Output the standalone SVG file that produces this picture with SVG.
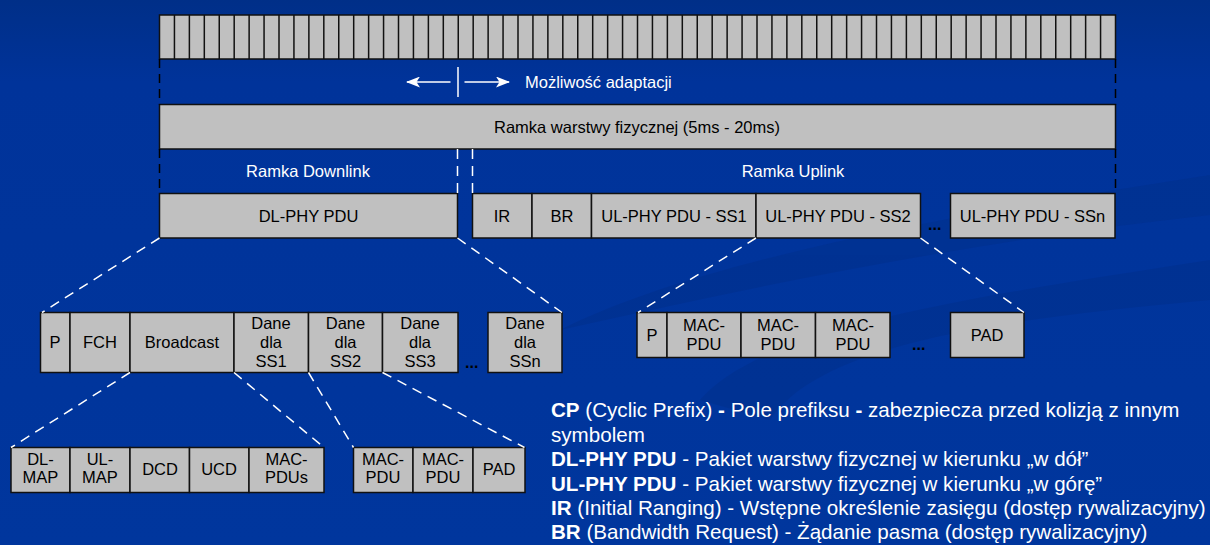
<svg xmlns="http://www.w3.org/2000/svg" width="1210" height="545" viewBox="0 0 1210 545">
<defs>
<linearGradient id="bg" x1="0" y1="0" x2="0" y2="1">
<stop offset="0" stop-color="#002f88"/>
<stop offset="0.15" stop-color="#00339a"/>
<stop offset="1" stop-color="#00369d"/>
</linearGradient>
<marker id="ah" viewBox="0 0 14 11" refX="13" refY="5.5" markerWidth="14" markerHeight="11" markerUnits="userSpaceOnUse" orient="auto">
<path d="M0,0 L14,5.5 L0,11 L3.5,5.5 Z" fill="#fff"/>
</marker>
<style>
.box{fill:#c0c0c0;stroke:#111;stroke-width:1.5}
.lbl{font-family:"Liberation Sans",Arial,sans-serif;font-size:16.5px;fill:#000;text-anchor:middle}
.wl{font-family:"Liberation Sans",Arial,sans-serif;font-size:16.5px;fill:#fff}
.leg{font-family:"Liberation Sans",Arial,sans-serif;font-size:20.6px;fill:#fff}
.b{font-weight:bold}
.bd{fill:none;stroke:#000;stroke-width:1.5;stroke-dasharray:9 6}
.wd{fill:none;stroke:#fff;stroke-width:1.5;stroke-dasharray:10 7}
.dots{font-family:"Liberation Sans",Arial,sans-serif;font-size:16px;font-weight:bold;fill:#000}
</style>
</defs>
<rect width="1210" height="545" fill="url(#bg)"/>
<g id="background-swoosh" opacity="0.25">
<path d="M560,330 C700,260 950,215 1210,175 L1210,215 C980,240 760,285 560,330 Z" fill="#002a7a"/>
<path d="M700,400 C760,330 950,300 1210,260 L1210,300 C990,320 820,345 770,420 Z" fill="#002a7a"/>
</g>

<g id="slots">
<rect class="box" x="159.5" y="15" width="956" height="44"/>
<path fill="none" stroke="#111" stroke-width="1.5" d="M174.44,15V59M189.38,15V59M204.31,15V59M219.25,15V59M234.19,15V59M249.13,15V59M264.06,15V59M279,15V59M293.94,15V59M308.88,15V59M323.81,15V59M338.75,15V59M353.69,15V59M368.63,15V59M383.56,15V59M398.5,15V59M413.44,15V59M428.38,15V59M443.31,15V59M458.25,15V59M473.19,15V59M488.13,15V59M503.06,15V59M518,15V59M532.94,15V59M547.88,15V59M562.81,15V59M577.75,15V59M592.69,15V59M607.63,15V59M622.56,15V59M637.5,15V59M652.44,15V59M667.38,15V59M682.31,15V59M697.25,15V59M712.19,15V59M727.13,15V59M742.06,15V59M757,15V59M771.94,15V59M786.88,15V59M801.81,15V59M816.75,15V59M831.69,15V59M846.63,15V59M861.56,15V59M876.5,15V59M891.44,15V59M906.38,15V59M921.31,15V59M936.25,15V59M951.19,15V59M966.13,15V59M981.06,15V59M996,15V59M1010.94,15V59M1025.88,15V59M1040.81,15V59M1055.75,15V59M1070.69,15V59M1085.63,15V59M1100.56,15V59"/>
</g>

<g id="adaptation">
<line x1="450.5" y1="82" x2="407" y2="82" stroke="#fff" stroke-width="1.5" marker-end="url(#ah)"/>
<line x1="458" y1="67" x2="458" y2="97" stroke="#fff" stroke-width="1.5"/>
<line x1="464.5" y1="82" x2="509" y2="82" stroke="#fff" stroke-width="1.5" marker-end="url(#ah)"/>
<text class="wl" x="525" y="88">Możliwość adaptacji</text>
</g>

<g id="frame">
<rect class="box" x="159.5" y="104.5" width="956" height="44.5"/>
<text class="lbl" x="637" y="133">Ramka warstwy fizycznej (5ms - 20ms)</text>
</g>

<g id="downlink-label"><text class="wl" x="308" y="177" text-anchor="middle">Ramka Downlink</text></g>
<g id="uplink-label"><text class="wl" x="793" y="177" text-anchor="middle">Ramka Uplink</text></g>

<g id="dl-phy-pdu">
<rect class="box" x="159.5" y="193.5" width="298" height="44.5"/>
<text class="lbl" x="308.5" y="222">DL-PHY PDU</text>
</g>

<g id="ul-phy">
<rect class="box" x="472.5" y="193.5" width="59.5" height="44.5"/>
<text class="lbl" x="502" y="222">IR</text>
<rect class="box" x="532" y="193.5" width="59.5" height="44.5"/>
<text class="lbl" x="562" y="222">BR</text>
<rect class="box" x="591.5" y="193.5" width="164.5" height="44.5"/>
<text class="lbl" x="674" y="222">UL-PHY PDU - SS1</text>
<rect class="box" x="756" y="193.5" width="164.5" height="44.5"/>
<text class="lbl" x="838" y="222">UL-PHY PDU - SS2</text>
<text class="dots" x="928" y="230">...</text>
<rect class="box" x="950.5" y="193.5" width="164.5" height="44.5"/>
<text class="lbl" x="1032.5" y="222">UL-PHY PDU - SSn</text>
</g>

<g id="dl-detail">
<rect class="box" x="40.5" y="312.5" width="29.5" height="60"/>
<text class="lbl" x="55" y="348">P</text>
<rect class="box" x="70" y="312.5" width="60" height="60"/>
<text class="lbl" x="100" y="348">FCH</text>
<rect class="box" x="130" y="312.5" width="104" height="60"/>
<text class="lbl" x="182" y="348">Broadcast</text>
<rect class="box" x="234" y="312.5" width="74.5" height="60"/>
<text class="lbl" x="271" y="328.5">Dane</text><text class="lbl" x="271" y="347.5">dla</text><text class="lbl" x="271" y="366.5">SS1</text>
<rect class="box" x="308.5" y="312.5" width="74" height="60"/>
<text class="lbl" x="345.5" y="328.5">Dane</text><text class="lbl" x="345.5" y="347.5">dla</text><text class="lbl" x="345.5" y="366.5">SS2</text>
<rect class="box" x="382.5" y="312.5" width="75.5" height="60"/>
<text class="lbl" x="420" y="328.5">Dane</text><text class="lbl" x="420" y="347.5">dla</text><text class="lbl" x="420" y="366.5">SS3</text>
<text class="dots" x="465" y="368">...</text>
<rect class="box" x="488" y="312.5" width="74" height="60"/>
<text class="lbl" x="525" y="328.5">Dane</text><text class="lbl" x="525" y="347.5">dla</text><text class="lbl" x="525" y="366.5">SSn</text>
</g>

<g id="ul-detail">
<rect class="box" x="637" y="312.5" width="30" height="45"/>
<text class="lbl" x="652" y="341">P</text>
<rect class="box" x="667" y="312.5" width="74" height="45"/>
<text class="lbl" x="704" y="331">MAC-</text><text class="lbl" x="704" y="350">PDU</text>
<rect class="box" x="741" y="312.5" width="74.5" height="45"/>
<text class="lbl" x="778" y="331">MAC-</text><text class="lbl" x="778" y="350">PDU</text>
<rect class="box" x="815.5" y="312.5" width="74.5" height="45"/>
<text class="lbl" x="853" y="331">MAC-</text><text class="lbl" x="853" y="350">PDU</text>
<text class="dots" x="912" y="350">...</text>
<rect class="box" x="950.5" y="312.5" width="73.5" height="45"/>
<text class="lbl" x="987" y="341">PAD</text>
</g>

<g id="broadcast-detail">
<rect class="box" x="11" y="447.5" width="59" height="45"/>
<text class="lbl" x="40.5" y="465">DL-</text><text class="lbl" x="40.5" y="483">MAP</text>
<rect class="box" x="70" y="447.5" width="60" height="45"/>
<text class="lbl" x="100" y="465">UL-</text><text class="lbl" x="100" y="483">MAP</text>
<rect class="box" x="130" y="447.5" width="59.5" height="45"/>
<text class="lbl" x="160" y="474.5">DCD</text>
<rect class="box" x="189.5" y="447.5" width="59.5" height="45"/>
<text class="lbl" x="219" y="474.5">UCD</text>
<rect class="box" x="249" y="447.5" width="75" height="45"/>
<text class="lbl" x="286.5" y="465">MAC-</text><text class="lbl" x="286.5" y="483">PDUs</text>
</g>

<g id="ss2-detail">
<rect class="box" x="353.5" y="447.5" width="59.5" height="45"/>
<text class="lbl" x="383" y="465">MAC-</text><text class="lbl" x="383" y="483">PDU</text>
<rect class="box" x="413" y="447.5" width="60" height="45"/>
<text class="lbl" x="443" y="465">MAC-</text><text class="lbl" x="443" y="483">PDU</text>
<rect class="box" x="473" y="447.5" width="52" height="45"/>
<text class="lbl" x="499" y="474.5">PAD</text>
</g>

<g id="connectors">
<path class="bd" d="M159.5,59V104.5M1115.5,59V104.5M159.5,149V193.5M1115.5,149V193.5"/>
<path class="wd" d="M457.5,149V193.5M472.5,149V193.5"/>
<path class="wd" d="M159.5,238L42,312.5M457.5,238L562,312.5M756,238L638,312.5M920.5,238L1024,312.5M130,372.5L11,447.5M234,372.5L324,447.5M308.5,372.5L353.5,447.5M382.5,372.5L524.5,447.5"/>
</g>

<g id="legend">
<text class="leg" x="551" y="417"><tspan class="b">CP</tspan> (Cyclic Prefix) <tspan class="b">-</tspan> Pole prefiksu <tspan class="b">-</tspan> zabezpiecza przed kolizją z innym</text>
<text class="leg" x="551" y="441.5">symbolem</text>
<text class="leg" x="551" y="466"><tspan class="b">DL-PHY PDU</tspan> - Pakiet warstwy fizycznej w kierunku „w dół”</text>
<text class="leg" x="551" y="490.5"><tspan class="b">UL-PHY PDU</tspan> - Pakiet warstwy fizycznej w kierunku „w górę”</text>
<text class="leg" x="551" y="515"><tspan class="b">IR</tspan> (Initial Ranging) - Wstępne określenie zasięgu (dostęp rywalizacyjny)</text>
<text class="leg" x="551" y="539"><tspan class="b">BR</tspan> (Bandwidth Request) - Żądanie pasma (dostęp rywalizacyjny)</text>
</g>
</svg>
